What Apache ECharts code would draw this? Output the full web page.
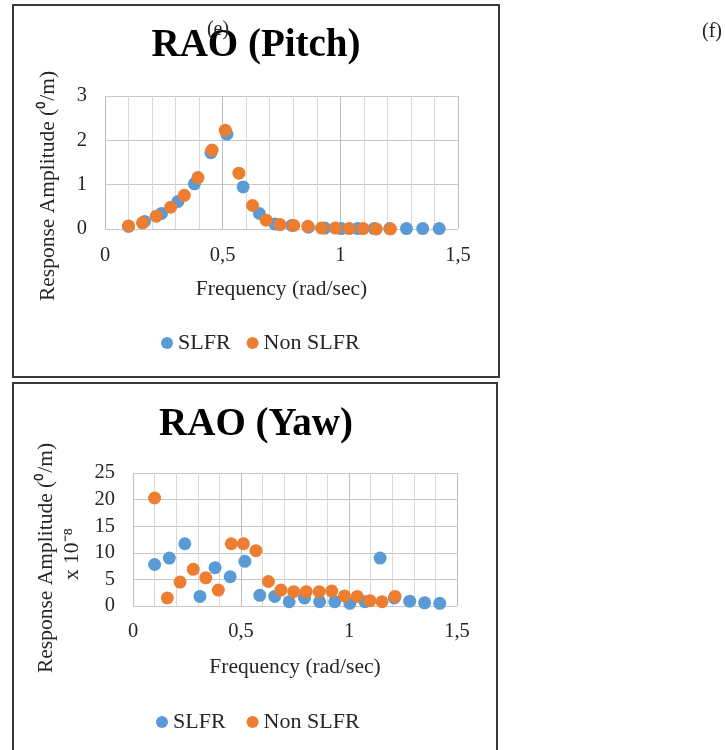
<!DOCTYPE html>
<html>
<head>
<meta charset="utf-8">
<script src="https://cdn.jsdelivr.net/npm/echarts@6/dist/echarts.min.js"></script>
<style>
html,body{margin:0;padding:0;background:#fff;}
#c{width:725px;height:750px;}
</style>
</head>
<body>
<div id="c"></div>
<script>
// Frequencies (rad/sec)
var slfrFreq = [0.10, 0.168, 0.24, 0.31, 0.38, 0.45, 0.518, 0.587, 0.656, 0.723, 0.794, 0.864, 0.934, 1.004, 1.074, 1.144, 1.21, 1.281, 1.35, 1.42];
var nonFreq  = [0.10, 0.159, 0.218, 0.279, 0.337, 0.395, 0.455, 0.511, 0.569, 0.627, 0.685, 0.744, 0.802, 0.862, 0.92, 0.979, 1.038, 1.097, 1.153, 1.213];
// Pitch RAO
var pitchSLFR = [0.06, 0.17, 0.35, 0.62, 1.02, 1.72, 2.14, 0.95, 0.35, 0.11, 0.08, 0.04, 0.02, 0.01, 0.01, 0.01, 0.01, 0.01, 0.01, 0.01];
var pitchNon  = [0.07, 0.14, 0.29, 0.49, 0.76, 1.16, 1.78, 2.23, 1.26, 0.53, 0.20, 0.10, 0.08, 0.06, 0.02, 0.02, 0.01, 0.01, 0.00, 0.00];
// Yaw RAO (x 10^-8)
var yawSLFR = [7.8, 9.0, 11.7, 1.8, 7.2, 5.5, 8.4, 2.0, 1.8, 0.8, 1.5, 0.8, 0.8, 0.5, 0.8, 9.0, 1.5, 0.9, 0.6, 0.5];
var yawNon  = [20.3, 1.5, 4.5, 6.9, 5.3, 3.0, 11.7, 11.7, 10.4, 4.6, 3.0, 2.7, 2.7, 2.7, 2.8, 1.9, 1.8, 1.0, 0.8, 1.8];
var seriesNames = ['SLFR', 'Non SLFR'];
var titles = ['RAO (Pitch)', 'RAO (Yaw)'];
var xName = 'Frequency (rad/sec)';
var yName = 'Response Amplitude (\u2070/m)';
var yawUnit = 'x 10\u207B\u2078';
var panelLabels = ['(e)', '(f)'];

function zip(xs, ys){ return xs.map(function(x,i){ return [x, ys[i]]; }); }

var FONT = '"Liberation Serif", "Times New Roman", serif';
var TXT = '#262626';
var BLUE = '#5B9BD5', ORANGE = '#ED7D31';

function xAxisCfg(gi, gap, margin){
  return {
    type:'value', gridIndex:gi, min:0, max:1.5, interval:0.5,
    name:xName, nameLocation:'middle', nameGap:gap,
    nameTextStyle:{fontFamily:FONT, fontSize:21.5, color:TXT},
    axisLine:{show:false}, axisTick:{show:false},
    axisLabel:{fontFamily:FONT, fontSize:20.5, color:TXT, margin:margin,
      formatter:function(v){ return String(v).replace('.', ','); }},
    splitLine:{show:true, lineStyle:{color:'#bfbfbf', width:1}},
    minorTick:{show:false, splitNumber:5},
    minorSplitLine:{show:true, lineStyle:{color:'#d9d9d9', width:1}}
  };
}
function yAxisCfg(gi, max, interval){
  return {
    type:'value', gridIndex:gi, min:0, max:max, interval:interval,
    axisLine:{show:false}, axisTick:{show:false},
    axisLabel:{fontFamily:FONT, fontSize:20.5, color:TXT, margin:18},
    splitLine:{show:true, lineStyle:{color:'#c8c8c8', width:1}}
  };
}
function sc(name, xi, data, color){
  return {
    type:'scatter', name:name, xAxisIndex:xi, yAxisIndex:xi,
    data:data, symbol:'circle', symbolSize:13,
    itemStyle:{color:color, opacity:1}, emphasis:{disabled:true}
  };
}
function legendCfg(left, top, gap){
  return {data:seriesNames, left:left, top:top, padding:0, icon:'circle', itemWidth:12, itemHeight:12, itemGap:gap,
    textStyle:{fontFamily:FONT, fontSize:22, color:TXT}, selectedMode:false};
}
function rotText(x, y, text){
  return {type:'text', x:x, y:y, rotation:Math.PI/2,
    style:{text:text, font:'21.5px ' + FONT, fill:TXT, align:'center', verticalAlign:'middle'}};
}

var chart = echarts.init(document.getElementById('c'), null, {renderer:'canvas'});
chart.setOption({
  animation:false,
  backgroundColor:'#fff',
  grid:[
    {left:105, top:96, width:353, height:133},
    {left:133, top:473, width:324, height:133}
  ],
  xAxis:[xAxisCfg(0, 49, 16), xAxisCfg(1, 50, 15)],
  yAxis:[yAxisCfg(0, 3, 1), yAxisCfg(1, 25, 5)],
  legend:[legendCfg(161, 332, 16), legendCfg(156, 711, 21)],
  series:[
    sc(seriesNames[0], 0, zip(slfrFreq, pitchSLFR), BLUE),
    sc(seriesNames[1], 0, zip(nonFreq, pitchNon), ORANGE),
    sc(seriesNames[0], 1, zip(slfrFreq, yawSLFR), BLUE),
    sc(seriesNames[1], 1, zip(nonFreq, yawNon), ORANGE)
  ],
  graphic:[
    {type:'rect', shape:{x:13, y:5, width:486, height:372}, style:{fill:'none', stroke:'#3a3a3a', lineWidth:2}, z:-1},
    {type:'rect', shape:{x:13, y:383, width:484, height:380}, style:{fill:'none', stroke:'#3a3a3a', lineWidth:2}, z:-1},
    {type:'text', x:256, y:46, style:{text:titles[0], font:'bold 39px ' + FONT, fill:'#000', align:'center', verticalAlign:'middle'}},
    {type:'text', x:256, y:425, style:{text:titles[1], font:'bold 39px ' + FONT, fill:'#000', align:'center', verticalAlign:'middle'}},
    {type:'text', x:218, y:30, style:{text:panelLabels[0], font:'20px ' + FONT, fill:'#222', align:'center', verticalAlign:'middle'}},
    {type:'text', x:712, y:32, style:{text:panelLabels[1], font:'20px ' + FONT, fill:'#222', align:'center', verticalAlign:'middle'}},
    rotText(48, 186, yName),
    rotText(46, 558, yName),
    rotText(72, 554, yawUnit)
  ]
});
</script>
</body>
</html>
